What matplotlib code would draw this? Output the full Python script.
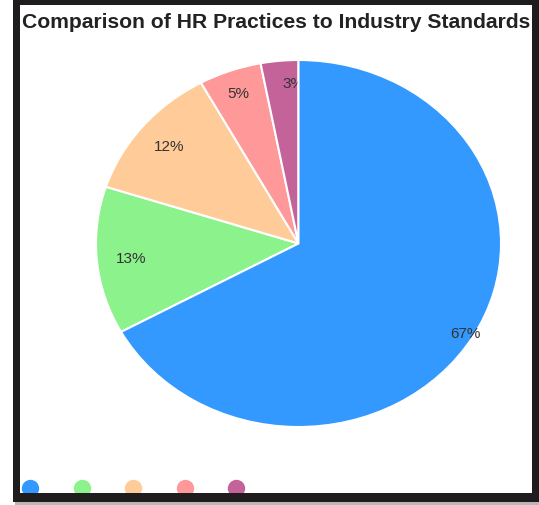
import numpy as np
import matplotlib.pyplot as plt
from matplotlib.patches import Rectangle
from matplotlib.lines import Line2D

W, H = 539, 506

title = "Comparison of HR Practices to Industry Standards"
shares = [67, 13, 12, 5, 3]
pct_labels = ["67%", "13%", "12%", "5%", "3%"]
colors = ["#3399FF", "#8CF28C", "#FFCC99", "#FF9999", "#C4639A"]
label_dist = [0.96, 0.83, 0.83, 0.87, 0.88]
label_nudge = [0, 0, 0, 0, 0.06]  # small x shift, the 3% label sits over the slice edge

plt.rcParams["font.family"] = ["Liberation Sans", "DejaVu Sans"]

fig = plt.figure(figsize=(W / 100, H / 100), dpi=100)
fig.patch.set_facecolor("white")


def px(x0, y0, x1, y1):
    # pixel box (top-left origin) -> figure fraction rect
    return (x0 / W, 1 - y1 / H, (x1 - x0) / W, (y1 - y0) / H)


# pie area (the reference is stretched horizontally, so keep aspect auto)
ax = fig.add_axes(px(96, 61, 501, 428))
wedges, _ = ax.pie(
    shares,
    colors=colors,
    startangle=90,
    counterclock=False,
    radius=1,
    wedgeprops=dict(edgecolor="white", linewidth=1.5),
)
ax.set_aspect("auto")
ax.set_xlim(-1, 1)
ax.set_ylim(-1, 1)
ax.axis("off")

# big slice drawn above the labels so the 3% label gets cut off at its edge
wedges[0].set_zorder(4)

for i, (w, lab, d, dx) in enumerate(zip(wedges, pct_labels, label_dist, label_nudge)):
    mid = np.deg2rad((w.theta1 + w.theta2) / 2)
    ax.text(d * np.cos(mid) + dx, d * np.sin(mid), lab, ha="center", va="center",
            fontsize=11, color="#333333", zorder=5 if i == 0 else 3)

fig.text(276 / W, 1 - 22 / H, title, ha="center", va="center",
         fontsize=15.2, fontweight="bold", color="#222222")

# colour-only legend along the bottom
handles = [Line2D([], [], marker="o", linestyle="", markersize=11.5,
                  markerfacecolor=c, markeredgecolor=c) for c in colors]
fig.legend(handles, [""] * len(colors), loc="center left",
           bbox_to_anchor=(20 / W, 1 - 489 / H), ncol=5, frameon=False,
           prop={"size": 7.2}, handlelength=2, handletextpad=0,
           columnspacing=3.15, borderpad=0, borderaxespad=0)

# dark frame around the card
frame = "#1e1c1c"
for box in [(13, 0, 539, 6), (13, 0, 20, 503), (532, 0, 539, 503), (13, 494, 539, 503)]:
    fig.patches.append(Rectangle(px(*box)[:2], *px(*box)[2:], transform=fig.transFigure,
                                 facecolor=frame, edgecolor="none", zorder=10))
fig.patches.append(Rectangle(px(15, 503, 539, 506)[:2], *px(15, 503, 539, 506)[2:],
                             transform=fig.transFigure, facecolor="#b8b8b8",
                             edgecolor="none", zorder=10))

fig.savefig("out.png", dpi=100)
